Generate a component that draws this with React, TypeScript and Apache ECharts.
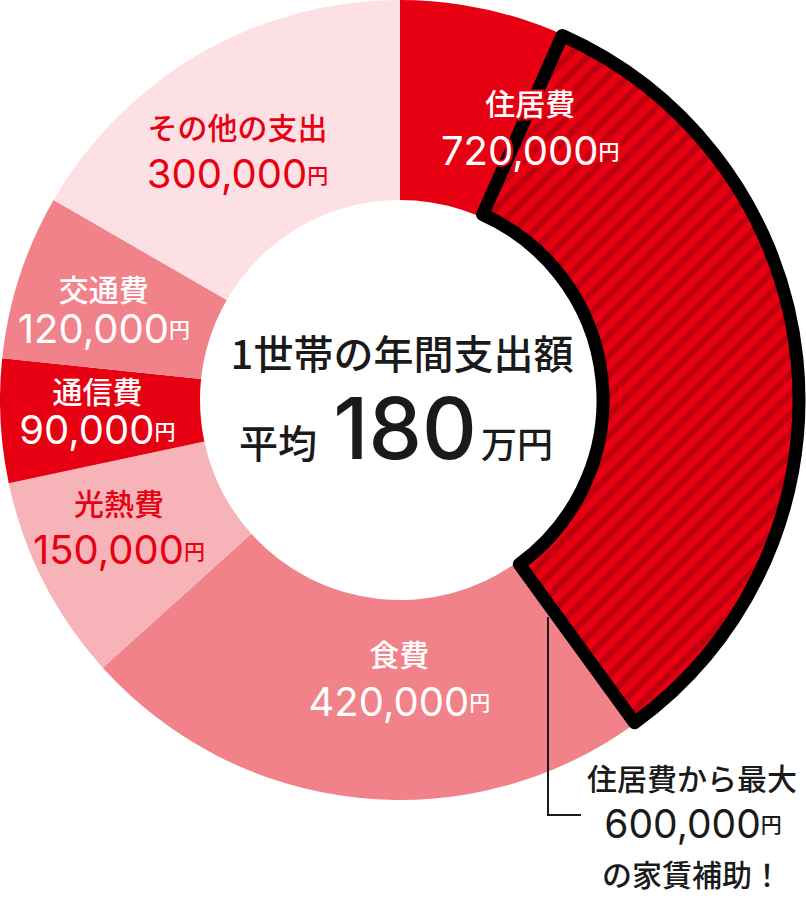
import React, { useEffect, useRef } from 'react';
import * as echarts from 'echarts';

const categories = ['住居費', '食費', '光熱費', '通信費', '交通費', 'その他の支出'];
const values = [720000, 420000, 150000, 90000, 120000, 300000];
const subsidyValue = 600000;
const subsidyTexts = ['住居費から最大', 'の家賃補助！'];
const centerTitle = '1世帯の年間支出額';
const centerPrefix = '平均';
const centerUnit = '万円';
const yen = '円';

const RED = '#e60012';
const STRIPE = '#c1000f';
const INK = '#1a1a1a';
const sliceColors = [RED, '#f1828a', '#f6b4b9', RED, '#f1828a', '#fde0e3'];
const labelColors = ['#ffffff', '#ffffff', RED, '#ffffff', '#ffffff', RED];
const labelTight = [false, false, false, true, true, false];
const labelShift = [[-158, -179], [31, -23], [-11, -11], [0, -6], [-8, 2], [-11, 13]];

const CJK = '"Noto Sans CJK JP", sans-serif';
const LATIN = 'Inter, "Noto Sans CJK JP", sans-serif';
const fmt = (v: number) => v.toLocaleString('en-US');

const CX = 400;
const CY = 400;
const R_IN = 203;
const R_OUT = 399;
const STRIPE_PERIOD = 20; // along x+y
const STRIPE_WIDTH = 9;

type Pt = [number, number];
function clipHalf(poly: Pt[], f: (p: Pt) => number): Pt[] {
  const out: Pt[] = [];
  for (let i = 0; i < poly.length; i++) {
    const a = poly[i];
    const b = poly[(i + 1) % poly.length];
    const fa = f(a);
    const fb = f(b);
    if (fa >= 0) out.push(a);
    if ((fa >= 0) !== (fb >= 0)) {
      const t = fa / (fa - fb);
      out.push([a[0] + t * (b[0] - a[0]), a[1] + t * (b[1] - a[1])]);
    }
  }
  return out;
}

function stripePolygons(startDeg: number, endDeg: number): Pt[][] {
  const sector: Pt[] = [];
  const N = 160;
  for (let i = 0; i <= N; i++) {
    const t = ((startDeg + ((endDeg - startDeg) * i) / N) * Math.PI) / 180;
    sector.push([CX + R_OUT * Math.sin(t), CY - R_OUT * Math.cos(t)]);
  }
  for (let i = N; i >= 0; i--) {
    const t = ((startDeg + ((endDeg - startDeg) * i) / N) * Math.PI) / 180;
    sector.push([CX + R_IN * Math.sin(t), CY - R_IN * Math.cos(t)]);
  }
  const sums = sector.map((p) => p[0] + p[1]);
  const lo = Math.floor(Math.min(...sums) / STRIPE_PERIOD) * STRIPE_PERIOD - STRIPE_PERIOD;
  const hi = Math.max(...sums) + STRIPE_PERIOD;
  const res: Pt[][] = [];
  for (let c = lo; c < hi; c += STRIPE_PERIOD) {
    let p = clipHalf(sector, (q) => q[0] + q[1] - c);
    if (p.length < 3) continue;
    p = clipHalf(p, (q) => c + STRIPE_WIDTH - (q[0] + q[1]));
    if (p.length < 3) continue;
    res.push(p);
  }
  return res;
}

export default function App() {
  const ref = useRef<HTMLDivElement>(null);
  useEffect(() => {
    document.body.style.margin = '0';
    if (!ref.current) return;
    const chart = echarts.init(ref.current, null, { renderer: 'svg' });
    const total = values.reduce((a, b) => a + b, 0);
    const subStartDeg = ((values[0] - subsidyValue) / total) * 360; // clockwise from top
    const subEndDeg = (values[0] / total) * 360;
    const subsidyStart = 90 - subStartDeg;

    const rich: Record<string, any> = {};
    values.forEach((_, i) => {
      const border = i === 0 ? { textBorderColor: RED, textBorderWidth: 4 } : { textBorderWidth: 0 };
      const lhName = labelTight[i] ? 40 : 46;
      const lhVal = labelTight[i] ? 40 : 50;
      rich['n' + i] = { fontFamily: CJK, fontSize: 30, fontWeight: 500, color: labelColors[i], lineHeight: lhName, ...border };
      rich['v' + i] = { fontFamily: LATIN, fontSize: 40, fontWeight: 400, color: labelColors[i], lineHeight: lhVal, ...border };
      rich['y' + i] = { fontFamily: CJK, fontSize: 21, fontWeight: 500, color: labelColors[i], lineHeight: lhVal, ...border };
    });

    const stripes = stripePolygons(subStartDeg, subEndDeg).map((points) => ({
      type: 'polygon',
      z: 3,
      silent: true,
      shape: { points },
      style: { fill: STRIPE, stroke: 'none' },
    }));

    const option: any = {
      animation: false,
      series: [
        {
          type: 'pie',
          center: [CX, CY],
          radius: [200, 400],
          startAngle: 90,
          clockwise: true,
          silent: true,
          z: 2,
          itemStyle: { borderWidth: 0 },
          label: { show: false },
          labelLine: { show: false },
          data: categories.map((name, i) => ({ name, value: values[i], itemStyle: { color: sliceColors[i] } })),
        },
        {
          type: 'pie',
          center: [CX, CY],
          radius: [R_IN, R_OUT],
          startAngle: subsidyStart,
          clockwise: true,
          silent: true,
          z: 4,
          label: { show: false },
          labelLine: { show: false },
          data: [
            {
              name: 'subsidy',
              value: subsidyValue,
              itemStyle: { color: 'transparent', borderColor: '#000000', borderWidth: 13, borderJoin: 'round' },
            },
            { name: 'rest', value: total - subsidyValue, itemStyle: { color: 'transparent', borderWidth: 0 } },
          ],
        },
        {
          type: 'pie',
          center: [CX, CY],
          radius: [200, 400],
          startAngle: 90,
          clockwise: true,
          silent: true,
          z: 6,
          itemStyle: { color: 'transparent', borderWidth: 0 },
          labelLine: { show: false },
          label: {
            show: true,
            position: 'inside',
            align: 'center',
            formatter: (p: any) => `{n${p.dataIndex}|${p.name}}\n{v${p.dataIndex}|${fmt(p.value)}}{y${p.dataIndex}|${yen}}`,
            rich,
          },
          labelLayout: (params: any) => ({ dx: labelShift[params.dataIndex][0], dy: labelShift[params.dataIndex][1] }),
          data: categories.map((name, i) => ({ name, value: values[i] })),
        },
      ],
      graphic: [
        ...stripes,
        {
          type: 'text', x: 402, y: 352, z: 10,
          style: { text: centerTitle, fill: INK, fontFamily: CJK, fontSize: 40, fontWeight: 500, align: 'center', verticalAlign: 'middle' },
        },
        {
          type: 'text', x: 239, y: 441, z: 10,
          style: { text: centerPrefix, fill: INK, fontFamily: CJK, fontSize: 39, fontWeight: 500, align: 'left', verticalAlign: 'middle' },
        },
        {
          type: 'text', x: 405, y: 428, z: 10,
          style: { text: String(total / 10000), fill: INK, fontFamily: LATIN, fontSize: 85, fontWeight: 500, align: 'center', verticalAlign: 'middle' },
        },
        {
          type: 'text', x: 481, y: 442, z: 10,
          style: { text: centerUnit, fill: INK, fontFamily: CJK, fontSize: 36, fontWeight: 500, align: 'left', verticalAlign: 'middle' },
        },
        {
          type: 'polyline', z: 10,
          shape: { points: [[548, 617], [548, 815], [581, 815]] },
          style: { stroke: INK, lineWidth: 2, fill: 'none' },
        },
        {
          type: 'text', x: 692, y: 777, z: 10,
          style: { text: subsidyTexts[0], fill: INK, fontFamily: CJK, fontSize: 30, fontWeight: 500, align: 'center', verticalAlign: 'middle' },
        },
        {
          type: 'text', x: 693, y: 823, z: 10,
          style: {
            text: `{v|${fmt(subsidyValue)}}{y|${yen}}`,
            fill: INK, align: 'center', verticalAlign: 'middle',
            rich: {
              v: { fontFamily: LATIN, fontSize: 39, fill: INK, lineHeight: 50 },
              y: { fontFamily: CJK, fontSize: 21, fontWeight: 500, fill: INK, lineHeight: 50 },
            },
          },
        },
        {
          type: 'text', x: 692, y: 873, z: 10,
          style: { text: subsidyTexts[1], fill: INK, fontFamily: CJK, fontSize: 30, fontWeight: 500, align: 'center', verticalAlign: 'middle' },
        },
      ],
    };
    chart.setOption(option);
    return () => chart.dispose();
  }, []);
  return <div ref={ref} style={{ width: 806, height: 900 }} />;
}
